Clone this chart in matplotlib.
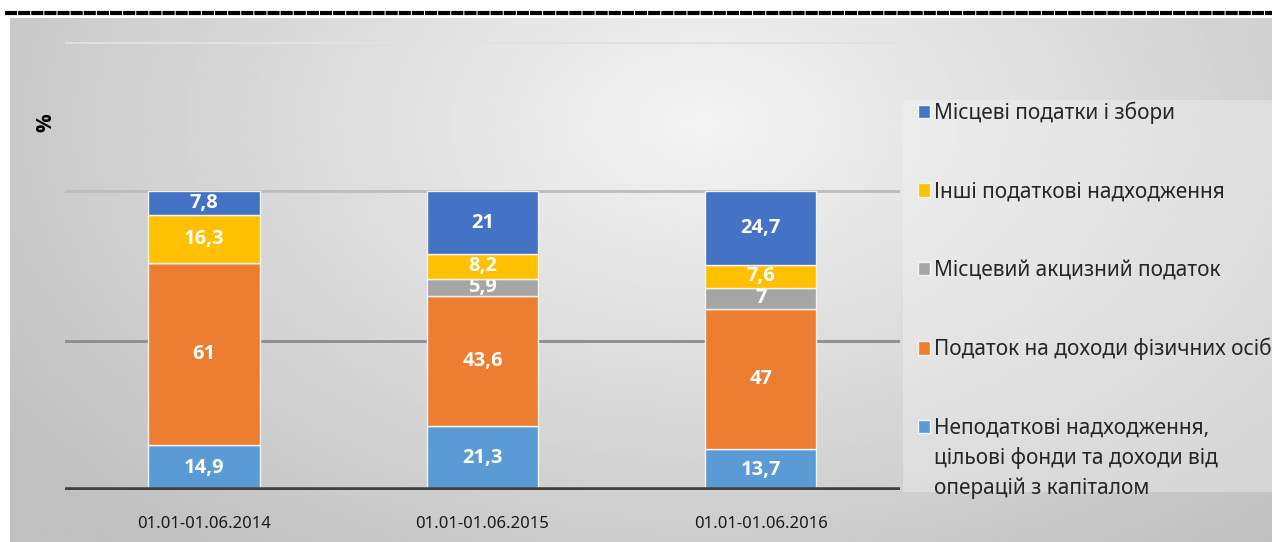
import numpy as np
import matplotlib.pyplot as plt
from matplotlib.lines import Line2D
from matplotlib.patches import Rectangle

# data (shares, %)
periods = ['01.01-01.06.2014', '01.01-01.06.2015', '01.01-01.06.2016']
series_names = ['Неподаткові надходження,',
                'Податок на доходи фізичних осіб',
                'Місцевий акцизний податок',
                'Інші податкові надходження',
                'Місцеві податки і збори']
name_tail = 'цільові фонди та доходи від\nоперацій з капіталом'
non_tax = [14.9, 21.3, 13.7]
pdfo = [61, 43.6, 47]
excise = [0, 5.9, 7]
other_tax = [16.3, 8.2, 7.6]
local_tax = [7.8, 21, 24.7]
series = [non_tax, pdfo, excise, other_tax, local_tax]
colors = ['#5B9BD5', '#ED7D31', '#A5A5A5', '#FFC000', '#4472C4']

plt.rcParams['font.family'] = ['Noto Sans', 'DejaVu Sans']
bold_font = ['Open Sans', 'DejaVu Sans']

W, H = 1272, 542
fig = plt.figure(figsize=(W / 100, H / 100), dpi=100)
fig.patch.set_facecolor('white')

# gradient background panel
bg = fig.add_axes([10/W, 0, 1 - 10/W, 1 - 18/H], zorder=-10)
xx, yy = np.meshgrid(np.linspace(0, 1, 400), np.linspace(0, 1, 200))
d = np.sqrt(((xx - 0.55) / 0.7) ** 2 + ((yy - 0.2) / 1.1) ** 2)
val = np.clip(0.955 - 0.21 * d, 0.75, 0.96)
bg.imshow(val, cmap='gray', vmin=0, vmax=1, aspect='auto', extent=[0, 1, 0, 1])
bg.add_patch(Rectangle((893/1262, 1 - 474/524), 1, 392/524,
                       facecolor='#f7f7f7', alpha=0.35, edgecolor='none'))
bg.set_xlim(0, 1)
bg.set_ylim(0, 1)
bg.axis('off')

# dashed line on top
fig.add_artist(Line2D([5/W, 1], [1 - 13/H] * 2, color='black', lw=3,
                      linestyle=(0, (2.9, 0.25)), transform=fig.transFigure))

ax = fig.add_axes([65/W, 1 - 490/H, 835/W, 448/H])
ax.patch.set_alpha(0)
x = np.arange(len(periods))
bottom = np.zeros(len(periods))
handles = []
for vals, name, c in zip(series, series_names, colors):
    vals = np.array(vals, dtype=float)
    bars = ax.bar(x, vals, 0.4, bottom=bottom, color=c, edgecolor='#f4f4f4',
                  linewidth=1, label=name, zorder=3)
    labels = [('%g' % v).replace('.', ',') if v > 0 else '' for v in vals]
    ax.bar_label(bars, labels=labels, label_type='center', color='white',
                 fontsize=14.5, fontweight='bold', family=bold_font)
    handles.append(bars)
    bottom += vals

ax.set_xlim(-0.5, 2.5)
ax.set_ylim(0, 150)
ax.axhline(50, color='#8c8c8c', lw=2, zorder=1)
ax.axhline(100, color='#bcbcbc', lw=2, zorder=1)
ax.axhline(150, color='#e2e2e2', lw=2, zorder=1)
ax.axhline(0, color='#404040', lw=4, zorder=4)
for s in ax.spines.values():
    s.set_visible(False)
ax.set_yticks([])
ax.set_xticks(x)
ax.set_xticklabels(periods, fontsize=12, color='#1a1a1a')
ax.tick_params(axis='x', length=0, pad=19)

fig.text(46/W, 1 - 123/H, '%', rotation=90, fontsize=15, fontweight='bold',
         family=bold_font, ha='center', va='center')

leg = fig.legend(handles[::-1], series_names[::-1], loc='upper left',
                 bbox_to_anchor=(901/W, 1 - 85/H), frameon=False,
                 fontsize=15, labelcolor='#262626', handlelength=0.6,
                 handleheight=0.6, handletextpad=0.2, labelspacing=2.75,
                 borderpad=0.3)

# continuation lines of the last (multi-line) legend entry
fig.canvas.draw()
bb = leg.get_texts()[-1].get_window_extent()
fig.text(bb.x0 / W, (bb.y0 - 8) / H, name_tail, fontsize=15, color='#262626',
         va='top', ha='left', linespacing=1.55)

fig.savefig('out.png', dpi=100)
